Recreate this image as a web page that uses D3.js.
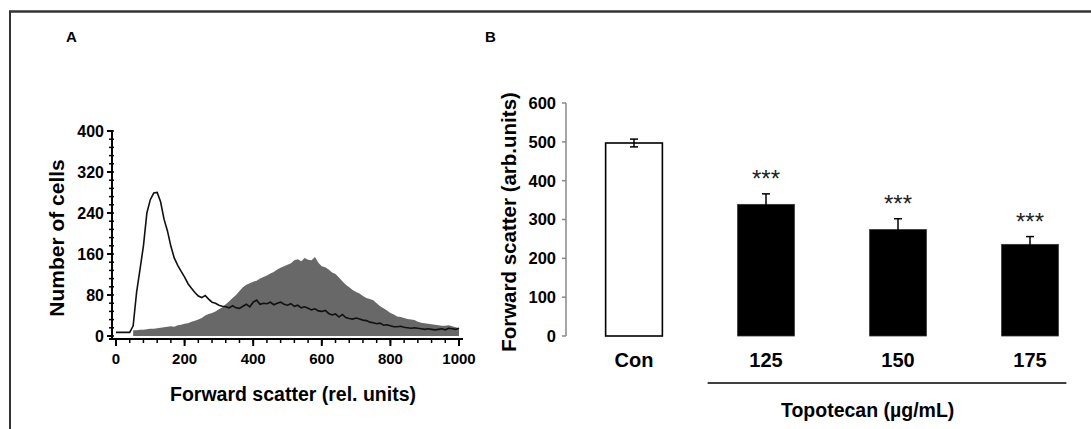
<!DOCTYPE html>
<html><head><meta charset="utf-8">
<script src="https://cdn.jsdelivr.net/npm/d3@7"></script>
<style>
html,body{margin:0;padding:0;background:#fff;}
svg{display:block;font-family:"Liberation Sans",Arial,sans-serif;}
</style></head>
<body>
<svg id="c" width="1091" height="429"></svg>
<script>
// ---------- Panel A data: histogram (bin start, every 10 rel. units) ----------
const histBins = d3.range(0, 1001, 10);
const treatedCounts = [7,7,7,7,7,20,85,130,176,240,266,279,280,262,228,205,175,152,138,126,115,102,93,85,78,75,79,72,66,64,60,58,57,55,59,55,54,58,62,57,66,70,62,64,63,66,61,64,66,62,60,63,58,60,55,57,54,51,53,49,48,50,44,41,43,37,42,36,34,33,35,33,31,30,27,26,24,25,21,22,20,18,18,19,17,16,15,16,15,14,13,14,13,12,13,14,12,15,14,13,15];
const controlCounts = [null,null,null,null,null,11,11,12,12,13,14,14,15,16,17,18,19,18,21,22,24,25,28,30,32,35,40,43,45,48,52,56,62,68,74,80,88,95,100,103,106,108,112,115,118,122,125,130,133,136,139,142,148,150,146,152,149,148,154,143,136,134,130,124,121,114,107,100,95,90,86,83,78,74,72,70,64,58,54,50,45,42,38,37,35,33,32,31,28,26,25,24,23,22,21,20,20,21,19,17,15];
const histXTicks = [0,200,400,600,800,1000];
const histYTicks = [0,80,160,240,320,400];

// ---------- Panel B data ----------
const groups = ["Con","125","150","175"];
const fscMeans = [497, 339, 274, 236];
const fscErrors = [10, 27, 28, 20];
const fscStars = ["", "***", "***", "***"];
const barYTicks = [0,100,200,300,400,500,600];

const svg = d3.select("#c");

// frame
svg.append("line").attr("x1",9).attr("x2",1091).attr("y1",11.5).attr("y2",11.5).attr("stroke","#333").attr("stroke-width",2.5);
svg.append("line").attr("x1",10).attr("x2",10).attr("y1",11).attr("y2",429).attr("stroke","#333").attr("stroke-width",2);

svg.append("text").attr("x",66).attr("y",42).attr("font-size",15).attr("font-weight","bold").text("A");
svg.append("text").attr("x",485).attr("y",42).attr("font-size",15).attr("font-weight","bold").text("B");

// ---------- Panel A ----------
const xA = d3.scaleLinear().domain([0,1000]).range([116,459]);
const yA = d3.scaleLinear().domain([0,400]).range([336,131]);

const ctrlData = histBins.map((b,i)=>({x:b,y:controlCounts[i]})).filter(d=>d.y!=null);
const area = d3.area().x(d=>xA(d.x)).y0(yA(0)).y1(d=>yA(d.y));
svg.append("path").datum(ctrlData).attr("d",area).attr("fill","#686868");

const treatData = histBins.map((b,i)=>({x:b,y:treatedCounts[i]}));
const line = d3.line().x(d=>xA(d.x)).y(d=>yA(d.y));
svg.append("path").datum(treatData).attr("d",line).attr("fill","none").attr("stroke","#111").attr("stroke-width",1.6);

// axes A
const gxA = svg.append("g").attr("transform","translate(0,339)");
gxA.append("line").attr("x1",109).attr("x2",463).attr("stroke","#000").attr("stroke-width",2);
gxA.selectAll("line.minor").data(d3.range(0,1001,40)).enter().append("line")
  .attr("x1",d=>xA(d)).attr("x2",d=>xA(d)).attr("y1",0).attr("y2",4).attr("stroke","#000").attr("stroke-width",1.5);
gxA.selectAll("line.major").data(histXTicks).enter().append("line")
  .attr("x1",d=>xA(d)).attr("x2",d=>xA(d)).attr("y1",0).attr("y2",7).attr("stroke","#000").attr("stroke-width",2);
gxA.selectAll("text").data(histXTicks).enter().append("text")
  .attr("x",d=>xA(d)).attr("y",25).attr("text-anchor","middle").attr("font-size",15).attr("font-weight","bold").text(d=>d);

const gyA = svg.append("g").attr("transform","translate(112,0)");
gyA.append("line").attr("y1",130).attr("y2",340).attr("stroke","#000").attr("stroke-width",2);
gyA.selectAll("line.minor").data(d3.range(0,401,16)).enter().append("line")
  .attr("y1",d=>yA(d)).attr("y2",d=>yA(d)).attr("x1",-3).attr("x2",2).attr("stroke","#000").attr("stroke-width",1.5);
gyA.selectAll("line.major").data(histYTicks).enter().append("line")
  .attr("y1",d=>yA(d)).attr("y2",d=>yA(d)).attr("x1",-5).attr("x2",0).attr("stroke","#000").attr("stroke-width",2);
gyA.selectAll("text").data(histYTicks).enter().append("text")
  .attr("x",-8).attr("y",d=>yA(d)).attr("dy","0.36em").attr("text-anchor","end").attr("font-size",16).attr("font-weight","bold").text(d=>d);

svg.append("text").attr("transform","translate(64,238) rotate(-90)").attr("text-anchor","middle")
  .attr("font-size",21).attr("font-weight","bold").text("Number of cells");
svg.append("text").attr("x",293).attr("y",401).attr("text-anchor","middle")
  .attr("font-size",19.5).attr("font-weight","bold").text("Forward scatter (rel. units)");

// ---------- Panel B ----------
const xB = d3.scaleBand().domain(groups).range([568,1096]).paddingInner(0.57).paddingOuter(0.285);
const yB = d3.scaleLinear().domain([0,600]).range([336,103]);

const gyB = svg.append("g").attr("transform","translate(566,0)");
gyB.append("line").attr("y1",yB(600)).attr("y2",yB(0)).attr("stroke","#888").attr("stroke-width",1.5);
gyB.selectAll("line.t").data(barYTicks).enter().append("line")
  .attr("y1",d=>yB(d)).attr("y2",d=>yB(d)).attr("x1",-4).attr("x2",0).attr("stroke","#888").attr("stroke-width",1.5);
gyB.selectAll("text").data(barYTicks).enter().append("text")
  .attr("x",-10).attr("y",d=>yB(d)).attr("dy","0.36em").attr("text-anchor","end").attr("font-size",16.5).attr("font-weight","bold").text(d=>d);

svg.append("text").attr("transform","translate(516,222) rotate(-90)").attr("text-anchor","middle")
  .attr("font-size",20.5).attr("font-weight","bold").text("Forward scatter (arb.units)");

const bars = svg.append("g");
groups.forEach((g,i)=>{
  const x0 = xB(g), w = xB.bandwidth(), cx = x0 + w/2;
  const isCon = i===0;
  bars.append("rect").attr("x",x0).attr("y",yB(fscMeans[i])).attr("width",w).attr("height",yB(0)-yB(fscMeans[i]))
    .attr("fill",isCon?"#fff":"#000").attr("stroke",isCon?"#000":"#333").attr("stroke-width",isCon?1.6:0.8);
  const eg2 = bars.append("g");
  eg2.append("line").attr("x1",cx).attr("x2",cx).attr("y1",yB(fscMeans[i]+fscErrors[i])).attr("y2",yB(fscMeans[i]-fscErrors[i])).attr("stroke","#000").attr("stroke-width",1.5);
  eg2.append("line").attr("x1",cx-4).attr("x2",cx+4).attr("y1",yB(fscMeans[i]+fscErrors[i])).attr("y2",yB(fscMeans[i]+fscErrors[i])).attr("stroke","#000").attr("stroke-width",1.5);
  if(isCon) eg2.append("line").attr("x1",cx-4).attr("x2",cx+4).attr("y1",yB(fscMeans[i]-fscErrors[i])).attr("y2",yB(fscMeans[i]-fscErrors[i])).attr("stroke","#000").attr("stroke-width",1.5);
  if(fscStars[i]) bars.append("text").attr("x",cx).attr("y",yB(fscMeans[i]+fscErrors[i])-7).attr("text-anchor","middle")
    .attr("font-size",24).attr("fill","#222").text(fscStars[i]);
  bars.append("text").attr("x",cx).attr("y",367).attr("text-anchor","middle").attr("font-size",20).attr("font-weight","bold").text(g);
});

// group line for treatment
svg.append("line").attr("x1",xB("125")-30).attr("x2",xB("175")+xB.bandwidth()+8).attr("y1",383).attr("y2",383).attr("stroke","#000").attr("stroke-width",1.5);
svg.append("text").attr("x",xB("150")-2).attr("y",417).attr("text-anchor","middle")
  .attr("font-size",19.5).attr("font-weight","bold").text("Topotecan (µg/mL)");
</script>
</body></html>
